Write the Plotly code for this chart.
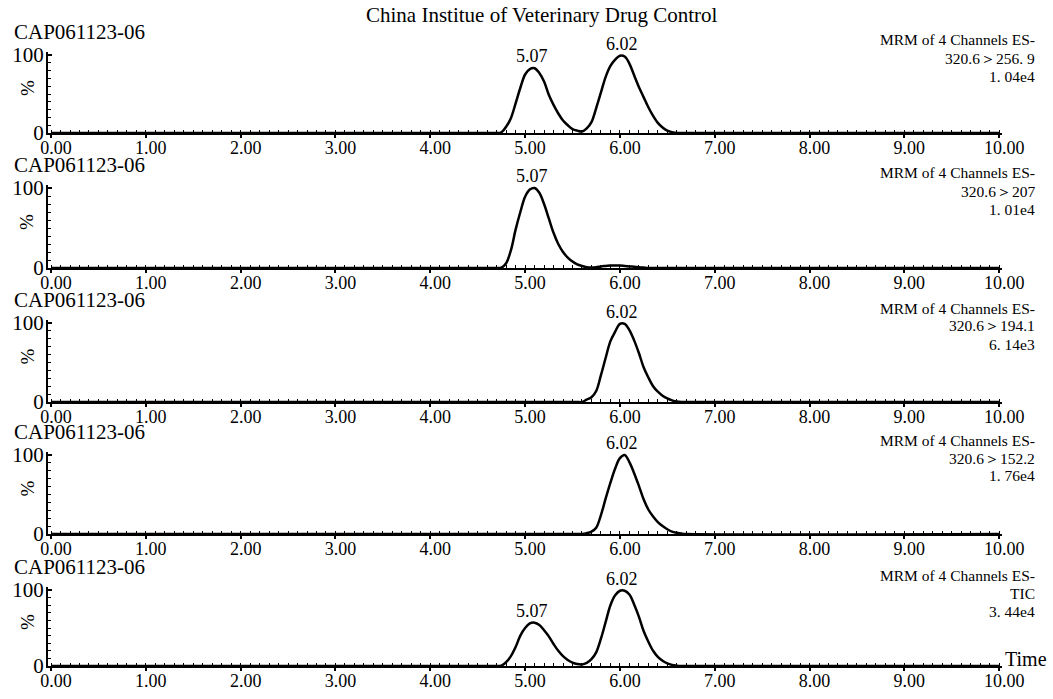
import plotly.graph_objects as go

W, H = 1053, 699

# ---------------- data ----------------
TIME = [0.00, 4.60, 4.65, 4.70, 4.75, 4.80, 4.85, 4.90, 4.95, 5.00, 5.05, 5.10,
        5.15, 5.20, 5.25, 5.30, 5.35, 5.40, 5.45, 5.50, 5.55, 5.60, 5.65, 5.70,
        5.75, 5.80, 5.85, 5.90, 5.95, 6.00, 6.05, 6.10, 6.15, 6.20, 6.25, 6.30,
        6.35, 6.40, 6.45, 6.50, 6.55, 6.60, 6.65, 6.70, 10.00]

CH_256_9 = [0, 0, 0, 0, 1, 8, 19, 38, 58, 75, 82, 83, 77, 66, 49, 36, 25, 16, 10, 5,
            3, 2, 6, 14, 32, 52, 72, 86, 94, 99, 98, 89, 74, 59, 46, 33, 22, 13, 7, 3,
            1, 0, 0, 0, 0]
CH_207 = [0, 0, 0, 0, 0.5, 6, 22, 48, 70, 89, 98, 100, 94, 80, 62, 44, 30, 20, 13, 8,
          4.5, 2.5, 1, 0.5, 1, 2, 2.5, 3, 3, 3, 2.5, 2, 1.5, 1, 0.5, 0, 0, 0, 0, 0,
          0, 0, 0, 0, 0]
CH_194_1 = [0, 0, 0, 0, 0, 0, 0, 0, 0, 0, 0, 0, 0, 0, 0, 0, 0, 0, 0, 0,
            0, 0, 3, 6, 14, 34, 56, 77, 89, 99, 99, 91, 78, 62, 44, 31, 20, 13, 8, 4.5,
            2, 0.5, 0, 0, 0]
CH_152_2 = [0, 0, 0, 0, 0, 0, 0, 0, 0, 0, 0, 0, 0, 0, 0, 0, 0, 0, 0, 0,
            0, 0, 1, 3, 8, 24, 45, 65, 83, 96, 100, 91, 77, 61, 44, 31, 22, 15, 10, 6,
            3, 1.5, 0.5, 0, 0]
TIC = [0, 0, 0, 0, 0.5, 5, 13, 25, 40, 50, 56, 57, 54, 47, 39, 29, 20, 13, 8, 4.5,
       2.5, 2, 4, 9, 18, 36, 58, 80, 93, 99, 99, 94, 81, 65, 46, 32, 20, 12, 7, 3.5,
       1.5, 0.5, 0, 0, 0]

SERIES = [CH_256_9, CH_207, CH_194_1, CH_152_2, TIC]
SAMPLE = "CAP061123-06"
HEADER = "MRM of 4 Channels ES-"
TRANSITIONS = ["320.6\uff1e256. 9", "320.6\uff1e207", "320.6\uff1e194.1", "320.6\uff1e152.2", "TIC"]
INTENSITIES = ["1. 04e4", "1. 01e4", "6. 14e3", "1. 76e4", "3. 44e4"]
PEAK_RT = [[5.07, 6.02], [5.07], [6.02], [6.02], [5.07, 6.02]]
TITLE = "China Institue of Veterinary Drug Control"
X_TICKS = [0, 1, 2, 3, 4, 5, 6, 7, 8, 9, 10]
Y_TICKS = [0, 100]

# ---------------- layout (pixel positions) ----------------
FONT = "Liberation Serif, Times New Roman, serif"
TOPS = [55, 188, 323, 455, 590]        # pixel row of the 100 line
BASES = [133, 268, 402, 534, 666]      # pixel row of the 0 line
YMAX = 104
X0, X1 = 48, 1002
XRANGE = [-0.032, 10.03]

fig = go.Figure()
annotations = []

for i, (vals, top, base) in enumerate(zip(SERIES, TOPS, BASES)):
    n = i + 1
    xa = "x" if n == 1 else f"x{n}"
    ya = "y" if n == 1 else f"y{n}"
    fig.add_trace(go.Scatter(
        x=TIME, y=vals, mode="lines", xaxis=xa, yaxis=ya,
        line=dict(color="black", width=2.5, shape="spline", smoothing=1.0),
        hoverinfo="skip", showlegend=False))

    top_ext = base - (base - top) * YMAX / 100.0
    ydom = [1 - base / H, 1 - top_ext / H]
    xkey = "xaxis" if n == 1 else f"xaxis{n}"
    ykey = "yaxis" if n == 1 else f"yaxis{n}"
    fig.update_layout(**{
        xkey: dict(domain=[X0 / W, X1 / W], range=XRANGE, anchor=ya,
                   automargin=False,
                   showline=True, linecolor="black", linewidth=2,
                   showgrid=False, zeroline=False,
                   tickmode="array", tickvals=X_TICKS,
                   ticktext=[f"{v:.2f}" for v in X_TICKS],
                   ticks="outside", ticklen=3, tickwidth=1.5, tickcolor="black",
                   ticklabelshift=5, ticklabelstandoff=-6,
                   minor=dict(dtick=0.1, tick0=0, ticks="inside", ticklen=3,
                              tickwidth=1.2, tickcolor="black"),
                   tickfont=dict(family=FONT, size=18, color="black"),
                   fixedrange=True),
        ykey: dict(domain=ydom, range=[0, YMAX], anchor=xa,
                   automargin=False,
                   showline=True, linecolor="black", linewidth=2,
                   showgrid=False, zeroline=False,
                   tickmode="array", tickvals=Y_TICKS,
                   ticktext=[str(v) for v in Y_TICKS],
                   ticks="inside", ticklen=4, tickwidth=1.5, tickcolor="black",
                   ticklabelstandoff=-2,
                   minor=dict(dtick=10, tick0=0, ticks="inside", ticklen=3,
                              tickwidth=1.2, tickcolor="black"),
                   tickfont=dict(family=FONT, size=21, color="black"),
                   fixedrange=True),
    })

    # sample name
    annotations.append(dict(text=SAMPLE, xref="paper", yref="paper",
                            x=12 / W, y=1 - (top - 23) / H, xanchor="left", yanchor="middle",
                            showarrow=False, font=dict(family=FONT, size=21, color="black")))
    # right header lines
    for k, txt in enumerate([HEADER, TRANSITIONS[i], INTENSITIES[i]]):
        annotations.append(dict(text=txt, xref="paper", yref="paper",
                                x=1037 / W, y=1 - (top - 15 + 18 * k) / H,
                                xanchor="right", yanchor="middle", showarrow=False,
                                font=dict(family=FONT, size=15.5, color="black")))
    # % label
    annotations.append(dict(text="%", xref="paper", yref="paper",
                            x=27 / W, y=1 - ((top + base) / 2 - 6) / H,
                            xanchor="center", yanchor="middle", textangle=-90,
                            showarrow=False, font=dict(family=FONT, size=19, color="black")))
    # peak labels
    for rt in PEAK_RT[i]:
        near = [v for t, v in zip(TIME, vals) if abs(t - rt) <= 0.06]
        annotations.append(dict(text=f"{rt:.2f}", xref=xa, yref=ya, x=rt, y=max(near),
                                xanchor="center", yanchor="bottom", yshift=0,
                                showarrow=False,
                                font=dict(family=FONT, size=18, color="black")))

annotations.append(dict(text=TITLE, xref="paper", yref="paper", x=541 / W, y=1 - 15 / H,
                        xanchor="center", yanchor="middle", showarrow=False,
                        font=dict(family=FONT, size=21, color="black")))
annotations.append(dict(text="Time", xref="paper", yref="paper", x=1003 / W, y=1 - 659 / H,
                        xanchor="left", yanchor="middle", showarrow=False,
                        font=dict(family=FONT, size=20, color="black")))

fig.update_layout(template="none", width=W, height=H, margin=dict(l=0, r=0, t=0, b=0, pad=0),
                  paper_bgcolor="white", plot_bgcolor="white",
                  annotations=annotations, showlegend=False)

fig.write_html("out.html", config={"displayModeBar": False},
               post_script="document.body.style.margin='0px';"
                           "document.body.style.padding='0px';"
                           "document.body.style.overflow='hidden';")
